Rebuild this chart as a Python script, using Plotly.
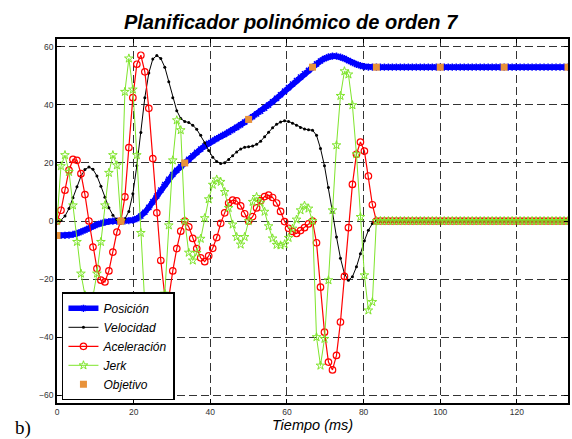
import plotly.graph_objects as go

# sample instants (ms)
time_ms = [0, 1.04, 2.08, 3.13, 4.17, 5.21, 6.25, 7.29, 8.33, 9.38, 10.42, 11.46, 12.5, 13.54, 14.58, 15.63, 16.67,
           17.71, 18.75, 19.79, 20.83, 21.88, 22.92, 23.96, 25.0, 26.04, 27.08, 28.13, 29.17, 30.21, 31.25, 32.29, 33.33,
           34.38, 35.42, 36.46, 37.5, 38.54, 39.58, 40.63, 41.67, 42.71, 43.75, 44.79, 45.83, 46.88, 47.92, 48.96, 50.0,
           51.04, 52.08, 53.13, 54.17, 55.21, 56.25, 57.29, 58.33, 59.38, 60.42, 61.46, 62.5, 63.54, 64.58, 65.63, 66.67,
           67.71, 68.75, 69.79, 70.83, 71.88, 72.92, 73.96, 75.0, 76.04, 77.08, 78.13, 79.17, 80.21, 81.25, 82.29, 83.33,
           84.38, 85.42, 86.46, 87.5, 88.54, 89.58, 90.63, 91.67, 92.71, 93.75, 94.79, 95.83, 96.88, 97.92, 98.96, 100.0,
           101.04, 102.08, 103.13, 104.17, 105.21, 106.25, 107.29, 108.33, 109.38, 110.42, 111.46, 112.5, 113.54, 114.58, 115.63, 116.67,
           117.71, 118.75, 119.79, 120.83, 121.88, 122.92, 123.96, 125.0, 126.04, 127.08, 128.13, 129.17, 130.21, 131.25, 132.29, 133.33]

posicion = [-5, -4.99, -4.96, -4.85, -4.63, -4.27, -3.78, -3.18, -2.53, -1.87, -1.27, -0.77, -0.41, -0.18, -0.06, -0.01, 0,
            0.01, 0.08, 0.31, 0.82, 1.70, 3.01, 4.68, 6.59, 8.61, 10.63, 12.58, 14.39, 16.01, 17.45, 18.76, 20,
            21.25, 22.47, 23.66, 24.78, 25.81, 26.75, 27.60, 28.38, 29.12, 29.85, 30.61, 31.41, 32.25, 33.14, 34.06, 35,
            35.93, 36.87, 37.85, 38.87, 39.94, 41.08, 42.26, 43.48, 44.72, 45.96, 47.19, 48.39, 49.57, 50.73, 51.87, 53,
            54.11, 55.13, 55.94, 56.52, 56.80, 56.77, 56.47, 55.94, 55.26, 54.58, 53.97, 53.51, 53.20, 53.04, 53.0, 53,
            53, 53, 53, 53, 53, 53, 53, 53, 53, 53, 53, 53, 53, 53, 53, 53,
            53, 53, 53, 53, 53, 53, 53, 53, 53, 53, 53, 53, 53, 53, 53, 53,
            53, 53, 53, 53, 53, 53, 53, 53, 53, 53, 53, 53, 53, 53, 53, 53]

velocidad = [0, 0.3, 1.7, 4.3, 8.0, 11.8, 15.4, 17.7, 18.6, 17.8, 15.5, 12.0, 8.2, 4.6, 2.0, 0.5, 0,
             0.7, 3.3, 9.4, 19.0, 30.5, 42.5, 51.0, 55.8, 57.0, 56.0, 53.0, 48.0, 42.5, 38.0, 35.3, 34.3,
             33.9, 33.0, 31.6, 29.5, 27.0, 24.3, 22.0, 20.5, 19.8, 20.1, 21.2, 22.5, 23.8, 24.8, 25.4, 25.6,
             25.8, 26.4, 27.5, 29.0, 30.6, 32.1, 33.3, 34.1, 34.5, 34.3, 33.7, 33.0, 32.2, 31.7, 31.4, 31.3,
             29.5, 25.0, 19.0, 11.5, 3.0, -5.5, -12.8, -18.2, -20.4, -19.2, -15.8, -11.3, -6.8, -3.2, -0.9, 0,
             0, 0, 0, 0, 0, 0, 0, 0, 0, 0, 0, 0, 0, 0, 0, 0,
             0, 0, 0, 0, 0, 0, 0, 0, 0, 0, 0, 0, 0, 0, 0, 0,
             0, 0, 0, 0, 0, 0, 0, 0, 0, 0, 0, 0, 0, 0, 0, 0]

aceleracion = [0, 3.7, 10.6, 17.5, 21.2, 20.9, 16.3, 9.1, 0, -9, -16.4, -20.4, -21, -17.2, -10.7, -3.8, 0,
               8.3, 25.3, 42.5, 54, 57.1, 51.4, 38.8, 21.5, 2.8, -13.6, -25.8, -26.5, -17.2, -9.5, -3.5, 0,
               -2, -6, -9.5, -12.7, -14, -12, -9.4, -5.7, -0.8, 2.8, 6.2, 7.2, 6.9, 5.2, 2.5, 0,
               1.5, 4.5, 7.0, 8.4, 8.9, 8.1, 6.2, 3.3, -0.2, -2.5, -3.6, -4.3, -3.3, -2.3, -1.0, 0,
               -7.5, -22.8, -38.3, -48.6, -51.3, -46.3, -34.8, -19.1, -2.3, 12.6, 23, 27.2, 24.1, 15.5, 5.6, 0,
               0, 0, 0, 0, 0, 0, 0, 0, 0, 0, 0, 0, 0, 0, 0, 0,
               0, 0, 0, 0, 0, 0, 0, 0, 0, 0, 0, 0, 0, 0, 0, 0,
               0, 0, 0, 0, 0, 0, 0, 0, 0, 0, 0, 0, 0, 0, 0, 0]

jerk = [0, 18.9, 22.7, 16.9, 5.4, -7.2, -18.1, -25.6, -27.9, -26, -18.1, -7.2, 5.4, 16.6, 22.7, 19.2, 0,
        44.5, 56, 45.3, 22.7, -4.1, -29, -47, -57, -56, -45, -25, -1.5, 20.9, 34.7, 31.3, 0,
        -10.9, -13.6, -11, -6.1, 1, 7.5, 12.5, 14.3, 13.5, 10, 4.5, -1.2, -5.5, -8.1, -5.5, 0,
        6.6, 8.3, 6.3, 3.2, -1.8, -6.0, -8.2, -8.4, -8.0, -5.8, -2.6, 0.5, 3.7, 5.3, 4.3, 0,
        -40, -49.8, -40.6, -20.4, 3.7, 26.1, 43.1, 51.6, 50.5, 39.9, 23, 1.4, -18.7, -30.8, -27.9, 0,
        0, 0, 0, 0, 0, 0, 0, 0, 0, 0, 0, 0, 0, 0, 0, 0,
        0, 0, 0, 0, 0, 0, 0, 0, 0, 0, 0, 0, 0, 0, 0, 0,
        0, 0, 0, 0, 0, 0, 0, 0, 0, 0, 0, 0, 0, 0, 0, 0]

objetivo_t = [0, 16.67, 33.33, 50.0, 66.67, 83.33, 100.0, 116.67, 133.33]
objetivo_v = [-5, 0, 20, 35, 53, 53, 53, 53, 53]

x_ticks = [0, 20, 40, 60, 80, 100, 120]
y_ticks = [-60, -40, -20, 0, 20, 40, 60]

BLUE = "#0000FF"
RED = "#FF0000"
GREEN = "#7FE52C"
ORANGE = "#E8923A"
FONT = "Liberation Sans, Arial, sans-serif"

fig = go.Figure()
fig.add_trace(go.Scatter(x=time_ms, y=posicion, name="<i>Posición</i>", mode="lines+markers",
                         line=dict(color=BLUE, width=5.5),
                         marker=dict(symbol="asterisk-open", size=6, color=BLUE, line=dict(color=BLUE, width=1.5))))
fig.add_trace(go.Scatter(x=time_ms, y=velocidad, name="<i>Velocidad</i>", mode="lines+markers",
                         line=dict(color="black", width=1),
                         marker=dict(symbol="circle", size=3, color="black")))
fig.add_trace(go.Scatter(x=time_ms, y=aceleracion, name="<i>Aceleración</i>", mode="lines+markers",
                         line=dict(color=RED, width=1.2),
                         marker=dict(symbol="circle-open", size=6.5, color=RED, line=dict(color=RED, width=1.2))))
fig.add_trace(go.Scatter(x=time_ms, y=jerk, name="<i>Jerk</i>", mode="lines+markers",
                         line=dict(color=GREEN, width=1),
                         marker=dict(symbol="star-open", size=6.5, color=GREEN, line=dict(color=GREEN, width=1))))
fig.add_trace(go.Scatter(x=objetivo_t, y=objetivo_v, name="<i>Objetivo</i>", mode="markers",
                         marker=dict(symbol="square", size=7, color=ORANGE)))

axis_common = dict(showline=True, linecolor="black", linewidth=1.5, mirror="ticks",
                   ticks="inside", ticklen=4, tickcolor="black",
                   showgrid=True, gridcolor="#333333", gridwidth=1, griddash="8px,4px",
                   zeroline=False, tickfont=dict(family=FONT, size=8.5, color="#333333"))

fig.update_layout(
    width=572, height=439,
    margin=dict(l=57, r=2, t=39, b=36),
    paper_bgcolor="white", plot_bgcolor="white",
    title=dict(text="<b><i>Planificador polinómico de orden 7</i></b>", x=0.508, xref="container",
               y=0.949, yref="container", xanchor="center", yanchor="middle",
               font=dict(family=FONT, size=20, color="black")),
    xaxis=dict(range=[0, 133.33], tickvals=x_ticks,
               title=dict(text="<i>Tiempo (ms)</i>", font=dict(family=FONT, size=14.5, color="black"), standoff=1),
               **axis_common),
    yaxis=dict(range=[-62.7, 62.7], tickvals=y_ticks, **axis_common),
    legend=dict(x=0.0097, y=0.0074, xanchor="left", yanchor="bottom",
                bgcolor="white", bordercolor="black", borderwidth=1.5,
                font=dict(family=FONT, size=12, color="black"), tracegroupgap=0),
    showlegend=True,
)

fig.add_annotation(text="b)", xref="paper", yref="paper", x=-0.0663, y=-0.0696,
                   xanchor="center", yanchor="middle", showarrow=False,
                   font=dict(family="Liberation Serif, Times New Roman, serif", size=19, color="black"))

fig.write_html("out.html", config={"displayModeBar": False},
               post_script="document.body.style.margin='0';document.body.style.overflow='hidden';"
                           "document.documentElement.style.overflow='hidden';")
